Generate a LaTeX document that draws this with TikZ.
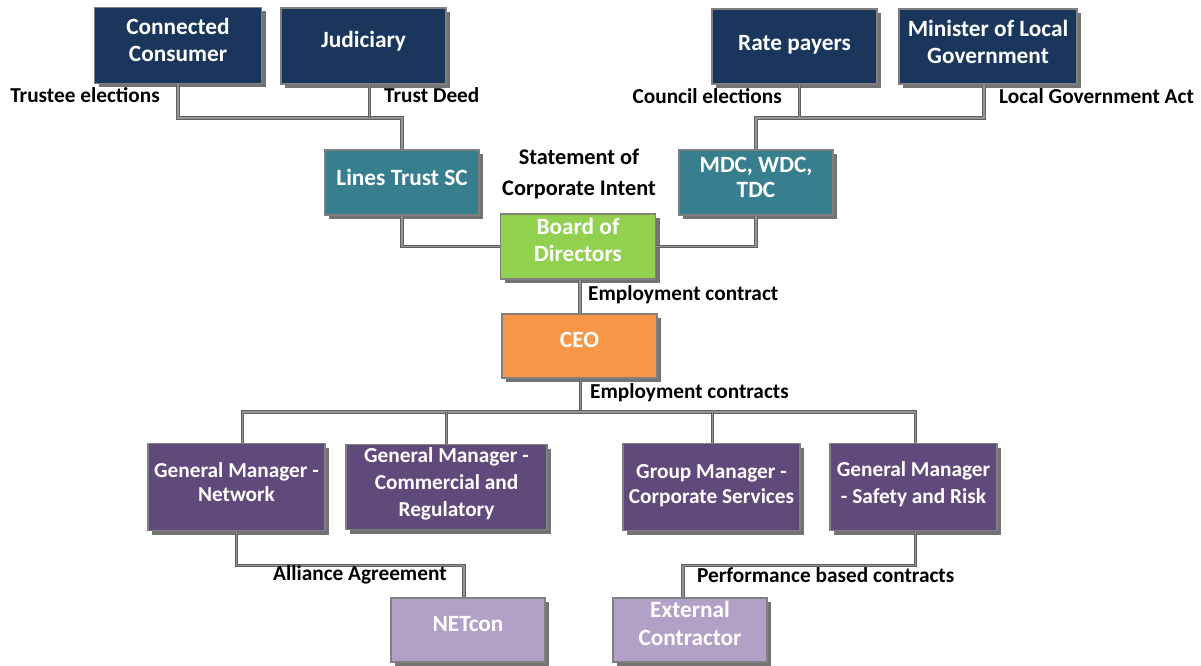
\documentclass[tikz,border=0pt]{standalone}
\usepackage{fontspec}
\setmainfont{Carlito}
\usetikzlibrary{shadows}
\definecolor{navyc}{RGB}{27,54,93}
\definecolor{tealc}{RGB}{55,126,143}
\definecolor{lgreen}{RGB}{146,208,80}
\definecolor{orng}{RGB}{246,150,70}
\definecolor{purp}{RGB}{96,74,123}
\definecolor{lpurp}{RGB}{178,161,199}
\definecolor{bord}{RGB}{128,128,128}
\tikzset{
  box/.style={draw=bord, line width=1.5pt, inner sep=0pt,
    drop shadow={shadow xshift=4pt, shadow yshift=-4pt, fill=black, opacity=0.55}},
  btxt/.style={text=white, align=center, inner sep=0pt, yshift=5pt,
    font=\bfseries\fontsize{23.3}{27}\selectfont},
  ptxt/.style={btxt, font=\bfseries\fontsize{21.3}{26}\selectfont},
  navybox/.style={box, fill=navyc},
  tealbox/.style={box, fill=tealc},
  greenbox/.style={box, fill=lgreen},
  orangebox/.style={box, fill=orng},
  purpbox/.style={box, fill=purp},
  lpurpbox/.style={box, fill=lpurp},
  conn/.style={draw=black!62, double=black!42, double distance=1.5pt, line width=0.9pt},
  lbl/.style={font=\bfseries\fontsize{21.3}{25}\selectfont, text=black, inner sep=0pt}
}
\begin{document}
\begin{tikzpicture}[x=1pt,y=-1pt]
\useasboundingbox (0,0) rectangle (1201,666);
\coordinate (busL) at (0,118);
\coordinate (busR) at (0,118);
\coordinate (busG) at (0,412);
\node[navybox, minimum width=167, minimum height=76, label={[btxt,yshift=1pt]center:{Connected\\Consumer}}] (cc) at (178,45.5) {};
\node[navybox, minimum width=165, minimum height=76, label={[btxt]center:{Judiciary}}] (jd) at (363.5,46) {};
\node[navybox, minimum width=165, minimum height=75, label={[btxt,yshift=-3pt]center:{Rate payers}}] (rp) at (794.5,46.5) {};
\node[navybox, minimum width=178, minimum height=75, label={[btxt]center:{Minister of Local\\Government}}] (ml) at (988,46.5) {};
\node[tealbox, minimum width=154, minimum height=65, label={[btxt]center:{Lines Trust SC}}] (lt) at (402,182.5) {};
\node[tealbox, minimum width=154, minimum height=65, label={[btxt,font=\bfseries\fontsize{23.3}{25}\selectfont]center:{MDC, WDC,\\TDC}}] (mdc) at (756,182.5) {};
\node[greenbox, minimum width=155, minimum height=65, label={[btxt,yshift=1.5pt]center:{Board of\\Directors}}] (bd) at (578,246.5) {};
\node[orangebox, minimum width=155, minimum height=64, label={[btxt,yshift=1pt]center:{CEO}}] (ceo) at (579.5,346) {};
\node[purpbox, minimum width=177, minimum height=87, label={[ptxt,font=\bfseries\fontsize{21.3}{24}\selectfont]center:{General Manager -\\Network}}] (gm1) at (236.5,487) {};
\node[purpbox, minimum width=201, minimum height=85, label={[ptxt,yshift=-2pt,font=\bfseries\fontsize{21.3}{27}\selectfont]center:{General Manager -\\Commercial and\\Regulatory}}] (gm2) at (446.5,487) {};
\node[purpbox, minimum width=177, minimum height=87, label={[ptxt,yshift=-3.5pt,font=\bfseries\fontsize{21.3}{25}\selectfont]center:{Group Manager -\\Corporate Services}}] (gm3) at (711.5,487) {};
\node[purpbox, minimum width=167, minimum height=87, label={[ptxt,yshift=-2.5pt,font=\bfseries\fontsize{21.3}{27}\selectfont]center:{General Manager\\- Safety and Risk}}] (gm4) at (913.5,487) {};
\node[lpurpbox, minimum width=154, minimum height=64, label={[btxt,yshift=1pt]center:{NETcon}}] (nc) at (468,630) {};
\node[lpurpbox, minimum width=154, minimum height=64, label={[btxt,yshift=2pt,font=\bfseries\fontsize{23.3}{28}\selectfont]center:{External\\Contractor}}] (ec) at (690,630) {};
% connectors
\draw[conn] (cc.south) -- (cc.south |- busL) -| (lt.north);
\draw[conn] ([xshift=6]jd.south) -- ([xshift=6]jd.south |- busL);
\draw[conn] ([xshift=5]rp.south) -- ([xshift=5]rp.south |- busR) -| (mdc.north);
\draw[conn] ([xshift=-4]ml.south) -- ([xshift=-4]ml.south |- busR) -- ([xshift=5]rp.south |- busR);
\draw[conn] (lt.south) |- (bd.west);
\draw[conn] (mdc.south) |- (bd.east);
\draw[conn] ([xshift=2]bd.south) -- ([xshift=2]bd.south |- ceo.north);
\draw[conn] ([xshift=1]ceo.south) -- ([xshift=1]ceo.south |- busG);
\draw[conn] ([xshift=6]gm1.north) |- ([xshift=2]gm4.north |- busG) -- ([xshift=2]gm4.north);
\draw[conn] (gm2.north |- busG) -- (gm2.north);
\draw[conn] ([xshift=1]gm3.north |- busG) -- ([xshift=1]gm3.north);
\draw[conn] (gm1.south) -- ++(0,34) -| ([xshift=-4]nc.north);
\draw[conn] ([xshift=2]gm4.south) -- ++(0,34) -| ([xshift=-7]ec.north);
% labels
\node[lbl, anchor=east] (l1) at (160,95) {Trustee elections};
\node[lbl, anchor=west] (l2) at (384,95) {Trust Deed};
\node[lbl, anchor=east] (l3) at (782,96) {Council elections};
\node[lbl, anchor=west] (l4) at (999,96) {Local Government Act};
\node[lbl, align=center, font=\bfseries\fontsize{22.3}{31}\selectfont] (l5) at (579,174) {Statement of\\Corporate Intent};
\node[lbl, anchor=west] (l6) at (588,295) {Employment contract};
\node[lbl, anchor=west] (l7) at (590,393) {Employment contracts};
\node[lbl, anchor=west] (l8) at (273,575) {Alliance Agreement};
\node[lbl, anchor=west] (l9) at (697,575) {Performance based contracts};
\end{tikzpicture}
\end{document}
